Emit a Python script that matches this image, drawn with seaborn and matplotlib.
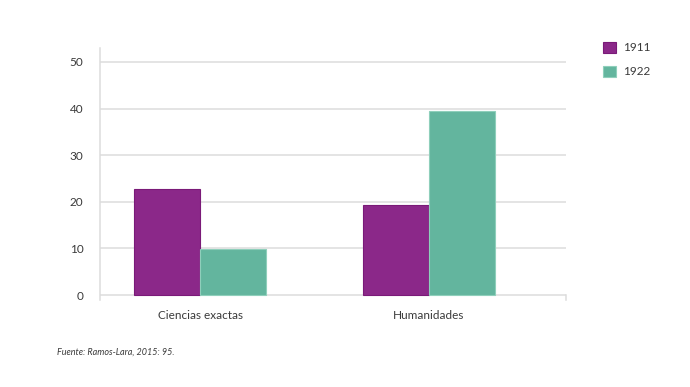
import pandas as pd
from matplotlib import pyplot as plt
from matplotlib.patches import Patch
import seaborn as sns

sns.set_style("white")
plt.rcParams['font.family'] = ['Lato', 'DejaVu Sans']

categories = ['Ciencias exactas', 'Humanidades']
years = ['1911', '1922']
values_1911 = [22.7, 19.3]
values_1922 = [9.8, 39.5]
yticks = [0, 10, 20, 30, 40, 50]
source = 'Fuente: Ramos-Lara, 2015: 95.'

colors = {'1911': '#8b2889', '1922': '#63b59e'}
edges = {'1911': '#7a1a78', '1922': '#8fcfbb'}
grid_c = '#dcdcdc'
text_c = '#3a3a3a'

df = pd.DataFrame({
    'cat': categories * 2,
    'year': [years[0]] * 2 + [years[1]] * 2,
    'val': values_1911 + values_1922,
})

fig = plt.figure(figsize=(6.9, 3.87), dpi=100)
ax = fig.add_axes([100 / 690, 1 - 300 / 387, 466 / 690, 252 / 387])

sns.barplot(data=df, x='cat', y='val', hue='year', palette=colors,
            width=0.58, gap=0, ax=ax, legend=False, saturation=1)

# bar outlines
for cont, y in zip(ax.containers, years):
    for p in cont:
        p.set_edgecolor(edges[y])
        p.set_linewidth(0.8)

ax.set_xlim(-0.437, 1.598)
ax.set_ylim(-1.07, 53)
ax.set_yticks(yticks)
ax.set_yticklabels([str(t) for t in yticks])
for t in yticks:
    ax.axhline(t, color=grid_c, lw=1.1, zorder=0)
ax.set_xlabel('')
ax.set_ylabel('')

for s in ['top', 'bottom']:
    ax.spines[s].set_visible(False)
ax.spines['left'].set_color(grid_c)
ax.spines['left'].set_linewidth(1.1)
ax.spines['right'].set_color(grid_c)
ax.spines['right'].set_linewidth(1.1)
ax.spines['right'].set_bounds(-1.07, 0)

ax.tick_params(axis='y', length=5, color=grid_c, width=1.1, pad=7,
               labelsize=8.5, labelcolor=text_c)
ax.tick_params(axis='x', length=0, pad=7, labelsize=8.5, labelcolor=text_c)

# legend
handles = [Patch(facecolor=colors[y], edgecolor=edges[y], lw=0.8, label=y) for y in years]
fig.legend(handles=handles, loc='upper left', bbox_to_anchor=(592 / 690, 1 - 31 / 387),
           frameon=False, handlelength=1.1, handleheight=1.1, labelspacing=1.05,
           handletextpad=0.6, fontsize=8.5, labelcolor=text_c)

fig.text(57 / 690, 1 - 352 / 387, source, fontsize=6.5, style='italic',
         color=text_c, va='center')

fig.savefig('out.png', dpi=100)
